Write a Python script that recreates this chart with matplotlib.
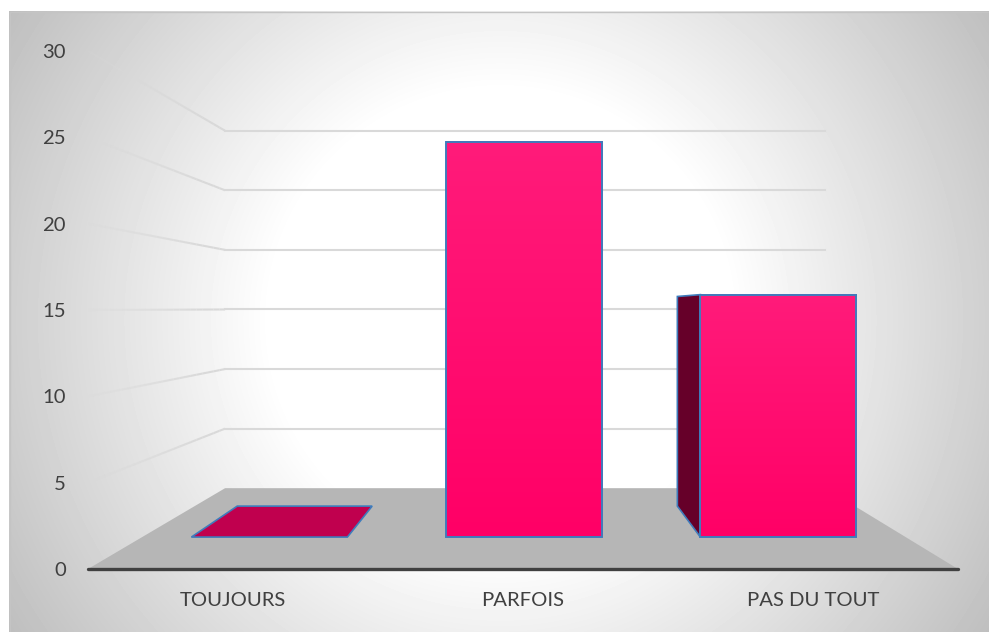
#!/usr/bin/env python3
# -*- coding: utf-8 -*-
import numpy as np
import matplotlib
matplotlib.use('Agg')
import matplotlib.pyplot as plt
from matplotlib.patches import Polygon

categories = ['TOUJOURS', 'PARFOIS', 'PAS DU TOUT']
values = [0, 26.1, 16]
y_ticks = [0, 5, 10, 15, 20, 25, 30]

W, H = 989, 632
TEXT = '#404040'

plt.rcParams['font.family'] = ['Lato', 'DejaVu Sans']

# view of the box: vanishing point in data units, shrink of the back wall
VX, VY = 1.525, 15.1
BACK = 0.69
BAR_W = 0.613
BAR_FRONT, BAR_BACK = 0.395, 0.778


def proj(x, y, t):
    s = 1 - (1 - BACK) * t
    return VX + (x - VX) * s, VY + (y - VY) * s


def box_to_fig(l, t, r, b):
    return [l / W, 1 - b / H, (r - l) / W, (b - t) / H]


fig = plt.figure(figsize=(W / 100, H / 100), dpi=100)

# background card with radial gradient
bg = fig.add_axes([0, 0, 1, 1], zorder=0)
xx, yy = np.meshgrid(np.arange(W), np.arange(H))
r = np.sqrt((xx - 500.0) ** 2 + (yy - 320.0) ** 2)
shade = 1 - 0.26 * np.clip((r - 230) / 360.0, 0, 1)
shade[(xx < 9) | (yy < 11)] = 1
bg.imshow(shade, cmap='gray', vmin=0, vmax=1, aspect='auto', extent=(0, W, H, 0))
bg.plot([9.5, 9.5, W], [H, 11.5, 11.5], color='#c4c4c4', lw=1)
bg.set_xlim(0, W)
bg.set_ylim(H, 0)
bg.axis('off')

ax = fig.add_axes(box_to_fig(88, 51, 958, 569), zorder=1)
ax.patch.set_alpha(0)

# floor
floor = [proj(0, 0, 0), proj(3, 0, 0), proj(3, 0, 1), proj(0, 0, 1)]
ax.add_patch(Polygon(floor, closed=True, fc='#b6b6b6', ec='none', zorder=1))

# gridlines: along the left wall (fading to the front) then along the back wall
for v in y_ticks[1:]:
    ts = np.linspace(0, 1, 25)
    for t0, t1 in zip(ts[:-1], ts[1:]):
        p0 = proj(0, v, t0)
        p1 = proj(0, v, t1)
        ax.plot([p0[0], p1[0]], [p0[1], p1[1]], color='#d9d9d9', lw=1.5,
                alpha=min(1, 0.15 + t1), solid_capstyle='butt', zorder=0.5)
    p0 = proj(0, v, 1)
    p1 = proj(3, v, 1)
    ax.plot([p0[0], p1[0]], [p0[1], p1[1]], color='#d9d9d9', lw=1.5, zorder=0.5)

# bars
grad = np.linspace(0, 1, 256).reshape(-1, 1, 1)
top_col = np.array([255, 27, 122]) / 255.0
bot_col = np.array([255, 0, 102]) / 255.0
grad_img = bot_col + grad * (top_col - bot_col)
edge = '#3f7cbc'

for i, val in enumerate(values):
    x0 = i + 0.5 - BAR_W / 2
    x1 = i + 0.5 + BAR_W / 2
    if val < VY:
        top = [proj(x0, val, BAR_FRONT), proj(x1, val, BAR_FRONT),
               proj(x1, val, BAR_BACK), proj(x0, val, BAR_BACK)]
        ax.add_patch(Polygon(top, closed=True, fc='#c0004e', ec=edge, lw=1.2, zorder=2))
    if x0 > VX:
        side = [proj(x0, 0, BAR_FRONT), proj(x0, val, BAR_FRONT),
                proj(x0, val, BAR_BACK), proj(x0, 0, BAR_BACK)]
        ax.add_patch(Polygon(side, closed=True, fc='#660029', ec=edge, lw=1.2, zorder=2))
    if val > 0:
        a = proj(x0, 0, BAR_FRONT)
        b = proj(x1, val, BAR_FRONT)
        im = ax.imshow(grad_img, origin='lower', aspect='auto', zorder=3,
                       extent=(a[0], b[0], a[1], b[1]))
        front = Polygon([a, (b[0], a[1]), b, (a[0], b[1])], closed=True,
                        fc='none', ec=edge, lw=1.4, zorder=4)
        ax.add_patch(front)

ax.set_xlim(0, 3)
ax.set_ylim(0, 30)
ax.set_xticks([i + 0.5 for i in range(len(categories))])
ax.set_xticklabels(categories)
ax.set_yticks(y_ticks)
ax.tick_params(axis='both', length=0, labelsize=14.6, labelcolor=TEXT)
ax.tick_params(axis='x', pad=16.5)
ax.tick_params(axis='y', pad=16)
for side_name in ['top', 'left', 'right']:
    ax.spines[side_name].set_visible(False)
ax.spines['bottom'].set_color('#404040')
ax.spines['bottom'].set_linewidth(2.4)
ax.spines['bottom'].set_capstyle('round')
ax.spines['bottom'].set_zorder(5)

fig.savefig('out.png', dpi=100)
